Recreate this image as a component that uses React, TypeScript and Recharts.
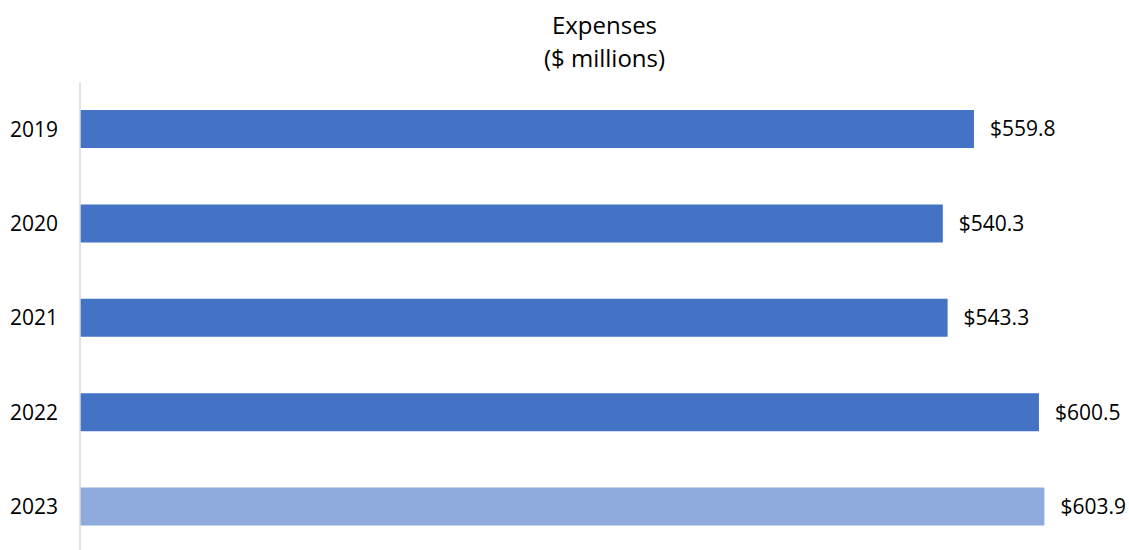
import React from "react";
import { BarChart, Bar, XAxis, YAxis, Cell, LabelList } from "recharts";

const years = ["2019", "2020", "2021", "2022", "2023"];
const expenses = [559.8, 540.3, 543.3, 600.5, 603.9];
const barColors = ["#4472c4", "#4472c4", "#4472c4", "#4472c4", "#8faadc"];

const rows = years.map((year, i) => ({ year, value: expenses[i] }));

const FONT = "'Open Sans', sans-serif";

const App: React.FC = () => {
    return (
        <div style={{ position: "absolute", left: 0, top: 0, width: 1129, height: 550, overflow: "hidden", fontFamily: FONT }}>
            <style>{"body{margin:0;overflow:hidden}"}</style>
            <div
                style={{
                    position: "absolute",
                    left: 0,
                    top: 8,
                    width: 1209,
                    textAlign: "center",
                    fontSize: 24,
                    lineHeight: "33px",
                    color: "#000",
                }}
            >
                Expenses
                <br />
                ($ millions)
            </div>
            <BarChart
                width={1129}
                height={554}
                data={rows}
                layout="vertical"
                margin={{ top: 82, right: 11, left: 0, bottom: 0 }}
                style={{ position: "absolute", left: 0, top: 0 }}
            >
                <XAxis type="number" domain={[0, 650]} hide />
                <YAxis
                    type="category"
                    dataKey="year"
                    width={80}
                    tickLine={false}
                    tickSize={0}
                    tickMargin={22}
                    axisLine={{ stroke: "#d9d9d9", strokeWidth: 1.5 }}
                    tick={{ fontSize: 21, fill: "#000", fontFamily: FONT }}
                    interval={0}
                />
                <Bar dataKey="value" barSize={38} isAnimationActive={false}>
                    {rows.map((r, i) => (
                        <Cell key={r.year} fill={barColors[i]} />
                    ))}
                    <LabelList
                        dataKey="value"
                        position="right"
                        offset={16}
                        fontSize={21}
                        fill="#000"
                        fontFamily={FONT}
                        formatter={(v: any) => `$${Number(v).toFixed(1)}`}
                    />
                </Bar>
            </BarChart>
        </div>
    );
};

export default App;
